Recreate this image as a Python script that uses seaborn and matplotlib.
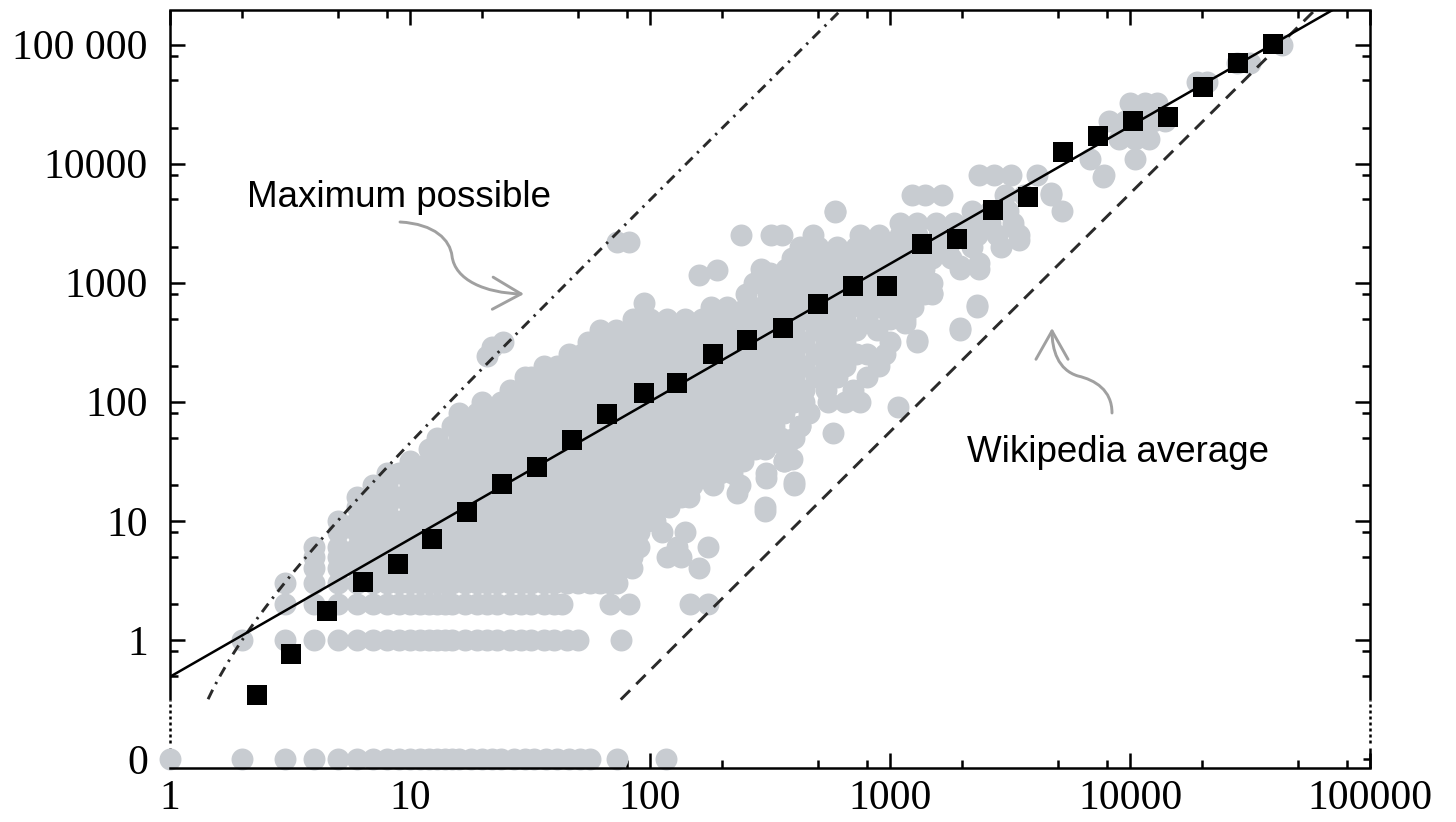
import numpy as np
import pandas as pd
import matplotlib
matplotlib.use("Agg")
import matplotlib.pyplot as plt
import seaborn as sns
from matplotlib.ticker import FixedLocator, FixedFormatter, NullFormatter
from matplotlib.patches import FancyArrowPatch, ArrowStyle
from matplotlib.path import Path

# grey dots, read row by row: edge count of the row and the node counts seen on it
row_edges = [0, 1, 2, 3, 4, 5, 6, 8, 10, 13, 16, 20, 25, 32, 40, 50, 63, 80, 100, 126,
             160, 200, 250, 320, 400, 500, 630, 800, 1000, 1300, 1600, 2000, 2500, 3200,
             4000, 5500, 8000, 11000, 16000, 23000, 32000, 48000, 70000, 100000]
row_nodes = [
    [1, 2, 3, 4, 5, 6, 7, 8, 9, 10, 11, 12, 13, 14, 15, 16, 18, 20, 22, 24, 27, 30, 33, 37, 41, 46, 51, 56, 73, 117],
    [2, 3, 4, 5, 6, 7, 8, 9, 10, 11, 12, 13, 14, 15, 17, 19, 21, 23, 26, 29, 32, 36, 40, 45, 50, 76],
    [3, 4, 5, 6, 7, 8, 9, 10, 11, 12, 13, 14, 15, 17, 19, 21, 23, 26, 29, 32, 36, 40, 43, 68, 82, 147, 175],
    [3, 4, 5, 6, 7, 8, 9, 10, 11, 12, 13, 14, 15, 17, 19, 21, 23, 26, 29, 32, 36, 40, 45, 50, 56, 62, 68, 73],
    [4, 5, 6, 7, 8, 9, 10, 11, 12, 13, 14, 15, 17, 19, 21, 23, 26, 29, 32, 36, 40, 45, 50, 56, 62, 68, 76, 84, 160],
    [4, 5, 6, 7, 8, 9, 10, 12, 14, 16, 19, 22, 26, 30, 35, 41, 48, 56, 65, 76, 84, 118, 135],
    [4, 5, 6, 7, 8, 9, 10, 11, 13, 15, 17, 20, 24, 28, 32, 38, 44, 52, 60, 70, 82, 90, 130, 175],
    [5, 6, 7, 8, 9, 10, 12, 14, 16, 19, 22, 26, 30, 35, 41, 48, 56, 65, 76, 90, 112, 140],
    [5, 6, 7, 8, 9, 11, 13, 15, 17, 20, 24, 28, 32, 38, 44, 52, 60, 70, 82, 97, 105],
    [6, 7, 8, 10, 12, 14, 16, 19, 22, 26, 30, 35, 41, 48, 56, 65, 76, 90, 105, 120, 300],
    [6, 7, 8, 9, 11, 13, 15, 17, 20, 24, 28, 32, 38, 44, 52, 60, 70, 82, 97, 113, 135, 146],
    [7, 8, 10, 12, 14, 16, 19, 22, 26, 30, 35, 41, 48, 56, 65, 76, 90, 105, 125, 150, 183, 237, 400],
    [8, 9, 11, 13, 15, 17, 20, 24, 28, 32, 38, 44, 52, 60, 70, 82, 97, 113, 135, 165, 195, 220, 305],
    [10, 12, 14, 16, 19, 22, 26, 30, 35, 41, 48, 56, 65, 76, 90, 105, 125, 150, 180, 210, 245, 360],
    [12, 13, 15, 17, 20, 24, 28, 32, 38, 44, 52, 60, 70, 82, 97, 113, 135, 165, 195, 230, 275, 300, 370],
    [13, 16, 19, 22, 26, 30, 35, 41, 48, 56, 65, 76, 90, 105, 125, 150, 180, 210, 250, 300, 350, 400],
    [15, 17, 20, 24, 28, 32, 38, 44, 52, 60, 70, 82, 97, 113, 135, 165, 195, 230, 275, 330, 420],
    [16, 19, 22, 26, 30, 35, 41, 48, 56, 65, 76, 90, 105, 125, 150, 180, 210, 250, 300, 360, 460],
    [20, 24, 28, 32, 38, 44, 52, 60, 70, 82, 97, 113, 135, 165, 195, 230, 275, 330, 400, 440, 550, 650, 750],
    [26, 30, 35, 41, 48, 56, 65, 76, 90, 105, 125, 150, 180, 210, 250, 300, 360, 440, 540, 700],
    [30, 32, 38, 44, 52, 60, 70, 82, 97, 113, 135, 165, 195, 230, 275, 330, 400, 490, 600, 800],
    [36, 41, 48, 56, 65, 76, 90, 105, 125, 150, 180, 210, 250, 300, 360, 440, 540, 650, 900],
    [46, 52, 60, 70, 82, 97, 113, 135, 165, 195, 230, 275, 330, 400, 490, 600, 720, 800, 950],
    [55, 65, 76, 90, 105, 125, 150, 180, 210, 250, 300, 360, 440, 540, 650, 1000, 1300],
    [62, 72, 82, 97, 113, 135, 165, 195, 230, 275, 330, 400, 490, 600, 720, 880, 1950],
    [85, 100, 118, 140, 165, 195, 230, 270, 320, 380, 450, 540, 650, 800, 1000, 1150],
    [180, 210, 250, 290, 340, 400, 470, 550, 650, 760, 900, 1050, 1250, 2300],
    [250, 310, 370, 430, 510, 600, 700, 830, 980, 1150, 1380, 1500],
    [270, 320, 380, 450, 540, 650, 760, 900, 1050, 1250, 1500],
    [290, 370, 430, 510, 600, 700, 830, 980, 1150, 1380, 1950, 2350],
    [390, 460, 540, 650, 760, 900, 1050, 1250, 1500, 1800],
    [420, 500, 600, 720, 860, 1000, 1200, 1450, 1750, 2200, 2900],
    [240, 320, 355, 480, 750, 900, 1100, 1300, 1600, 1900, 2300, 2800, 3450],
    [1100, 1300, 1550, 1850, 2200, 2600, 3250],
    [590, 2200, 2600, 3100, 5200],
    [1240, 1400, 1650, 3000, 3600, 4700],
    [2360, 2700, 3200, 4100, 7800],
    [6800, 10500],
    [9000, 10500, 12000],
    [8200, 9500, 11000, 12500, 14000],
    [10000, 11500, 13000],
    [19000, 21000],
    [28000, 31600],
    [43000],
]

# isolated grey dots
extra_nodes = [21, 22, 24.5, 73, 82, 94, 160, 190, 315, 420, 590, 230, 305, 360, 400, 420, 580,
               1080, 890, 1300, 1950, 1150, 1060, 1500, 2300, 350, 390, 300, 7700, 4700, 1950,
               2350, 3250, 3450]
extra_edges = [240, 290, 320, 2200, 2200, 680, 1170, 1290, 1200, 1650, 3900, 17, 23, 32, 21, 62, 55,
               90, 210, 330, 420, 460, 700, 820, 650, 45, 33, 12, 7700, 5700, 1370,
               1470, 2950, 2300]

# binned averages (black squares)
bin_nodes = [2.3, 3.2, 4.5, 6.4, 8.9, 12.4, 17.3, 24.2, 33.8, 47.3, 66, 94, 130, 183, 254,
             358, 501, 701, 972, 1360, 1900, 2690, 3760, 5260, 7360, 10300, 14400, 20100,
             28200, 39500]
bin_edges = [0.345, 0.76, 1.75, 3.07, 4.35, 7.1, 11.9, 20.5, 28.4, 48, 79, 119, 144, 253, 332,
             419, 666, 944, 944, 2130, 2340, 4100, 5280, 12600, 16900, 23000, 24800, 44400,
             70600, 102000]

# power-law fit and reference curves
fit_coef, fit_exp = 0.49, 1.156
wiki_density = 1.12e-4

x_ticks = [1, 10, 100, 1000, 10000, 100000]
x_labels = ['1', '10', '100', '1000', '10000', '100000']
y_ticks = [0, 1, 10, 100, 1000, 10000, 100000]
y_labels = ['0', '1', '10', '100', '1000', '10000', '100 000']

recs = []
for e, ns in zip(row_edges, row_nodes, strict=True):
    for n in ns:
        recs.append((n, e))
recs += list(zip(extra_nodes, extra_edges))
cloud = pd.DataFrame(recs, columns=['nodes', 'edges'])
bins = pd.DataFrame({'nodes': bin_nodes, 'edges': bin_edges})

sns.set_style("ticks")
plt.rcParams['font.family'] = ['Liberation Serif', 'DejaVu Serif']
plt.rcParams['axes.edgecolor'] = 'black'
plt.rcParams['text.color'] = 'black'
plt.rcParams['xtick.color'] = 'black'
plt.rcParams['ytick.color'] = 'black'


# log scale that puts 0 one decade below 1
def fwd(v):
    v = np.asarray(v, dtype=float)
    out = np.full(v.shape, -1.0)
    pos = v > 0
    out[pos] = np.log10(v[pos])
    return out


def inv(t):
    return 10.0 ** np.asarray(t, dtype=float)


fig = plt.figure(figsize=(14.56, 8.22), dpi=100)
ax = fig.add_axes([170 / 1456, 54 / 822, 1200 / 1456, 758 / 822])

sns.scatterplot(data=cloud, x='nodes', y='edges', color='#c8ccd1', s=250,
                linewidth=0, ax=ax, clip_on=False, zorder=2)

# reference lines
xs = np.logspace(0, 5, 600)
y_floor = 0.31
y_max = xs * (xs - 1) / 2
m = y_max >= y_floor
ax.plot(xs[m], y_max[m], color='#2a2a2a', lw=2.1, dashes=(3.6, 2.2, 0.8, 2.2), zorder=3)
y_wiki = wiki_density * xs * (xs - 1) / 2
m = y_wiki >= y_floor
ax.plot(xs[m], y_wiki[m], color='#2a2a2a', lw=2.1, dashes=(4.5, 3), zorder=3)
fit_df = pd.DataFrame({'nodes': xs, 'edges': fit_coef * xs ** fit_exp})
sns.lineplot(data=fit_df, x='nodes', y='edges', color='black', lw=1.8, ax=ax, zorder=3)

sns.scatterplot(data=bins, x='nodes', y='edges', marker='s', color='black', s=210,
                linewidth=0, ax=ax, zorder=4)

ax.set_xscale('log')
ax.set_yscale('function', functions=(fwd, inv))
ax.set_xlim(1, 1e5)
ax.set_ylim(10 ** -1.076, 10 ** 5.29)
ax.set_xlabel('')
ax.set_ylabel('')

ax.xaxis.set_major_locator(FixedLocator(x_ticks))
ax.xaxis.set_major_formatter(FixedFormatter(x_labels))
ax.xaxis.set_minor_locator(FixedLocator([m_ * 10 ** k for k in range(5) for m_ in (2, 5, 8)]))
ax.xaxis.set_minor_formatter(NullFormatter())
ax.yaxis.set_major_locator(FixedLocator(y_ticks))
ax.yaxis.set_major_formatter(FixedFormatter(y_labels))
ax.yaxis.set_minor_locator(FixedLocator([0.5, 0.8] + [m_ * 10 ** k for k in range(5) for m_ in (2, 5, 8)]))
ax.yaxis.set_minor_formatter(NullFormatter())

ax.tick_params(which='both', direction='in', top=True, right=True, width=1.8,
               labelsize=30, colors='black')
ax.tick_params(which='major', length=11)
ax.tick_params(which='minor', length=6)
ax.tick_params(axis='x', which='major', pad=8)
ax.tick_params(axis='y', which='major', pad=16)
zero_tick = ax.yaxis.get_major_ticks()[0]
zero_tick.tick1line.set_markersize(5)
zero_tick.tick2line.set_markersize(5)

# spines: left/right drawn by hand with the dotted break above 0
for side in ['left', 'right']:
    ax.spines[side].set_visible(False)
for side in ['top', 'bottom']:
    ax.spines[side].set_linewidth(1.8)
    ax.spines[side].set_color('black')
for xpos in [0, 1]:
    ax.plot([xpos, xpos], [0.0897, 1], transform=ax.transAxes, color='black', lw=1.8,
            clip_on=False, solid_capstyle='butt', zorder=1.5)
    ax.plot([xpos, xpos], [0.033, 0.0897], transform=ax.transAxes, color='black', lw=1.8,
            ls=(0, (1.2, 1.2)), clip_on=False, zorder=1.5)
    ax.plot([xpos, xpos], [0, 0.026], transform=ax.transAxes, color='black', lw=1.8,
            clip_on=False, solid_capstyle='butt', zorder=1.5)

# annotations
ax.text(0.064, 0.740, 'Maximum possible', transform=ax.transAxes, family='Liberation Sans',
        fontsize=26.5, va='baseline', ha='left', color='black')
ax.text(0.664, 0.4037, 'Wikipedia average', transform=ax.transAxes, family='Liberation Sans',
        fontsize=26.5, va='baseline', ha='left', color='black')


def ax_pt(px, py):
    return ((px - 170) / 1200, (768 - py) / 758)


codes = [Path.MOVETO, Path.CURVE4, Path.CURVE4, Path.CURVE4, Path.CURVE4, Path.CURVE4, Path.CURVE4]
style = ArrowStyle('->', head_length=0.6, head_width=0.34)
max_path = Path([ax_pt(400, 222), ax_pt(435, 224), ax_pt(450, 240), ax_pt(452, 256),
                 ax_pt(455, 280), ax_pt(485, 293), ax_pt(524, 294)], codes)
wiki_path = Path([ax_pt(1112, 413), ax_pt(1112, 390), ax_pt(1095, 380), ax_pt(1078, 376),
                  ax_pt(1058, 370), ax_pt(1052, 350), ax_pt(1052, 328)], codes)
for p in [max_path, wiki_path]:
    arr = FancyArrowPatch(path=p, arrowstyle=style, mutation_scale=34, color='#a0a0a0',
                          lw=2.1, transform=ax.transAxes, zorder=5)
    ax.add_patch(arr)

fig.savefig('out.png', dpi=100)
